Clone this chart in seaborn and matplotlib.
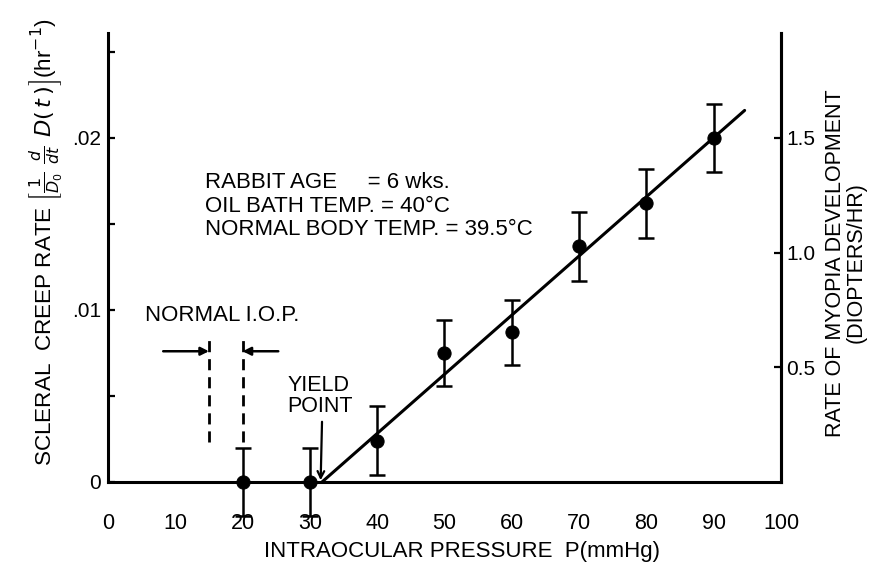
import matplotlib
matplotlib.use('Agg')
import matplotlib.pyplot as plt
import seaborn as sns

pressure = [20, 30, 40, 50, 60, 70, 80, 90]
creep_rate = [0.0, 0.0, 0.0024, 0.0075, 0.0087, 0.0137, 0.0162, 0.0200]
creep_err = [0.002, 0.002, 0.002, 0.0019, 0.0019, 0.002, 0.002, 0.002]

# fitted line above the yield point
fit_x = [31.8, 94.6]
fit_y = [0.0, 0.0216]

x_ticks = [0, 10, 20, 30, 40, 50, 60, 70, 80, 90, 100]
y_ticks = [0, 0.01, 0.02]
y_tick_labels = ['0', '.01', '.02']
y_minor = [0.005, 0.015, 0.025]
myopia_ticks = [0.5, 1.0, 1.5]
myopia_labels = ['0.5', '1.0', '1.5']
MYOPIA_PER_CREEP = 75  # right axis = left axis * 75

iop_bounds = [15, 20]
conditions = ['RABBIT AGE     = 6 wks.',
              'OIL BATH TEMP. = 40\u00b0C',
              'NORMAL BODY TEMP. = 39.5\u00b0C']

sns.set_theme(style='white')
plt.rcParams['font.family'] = ['Liberation Sans', 'DejaVu Sans']
plt.rcParams['mathtext.fontset'] = 'dejavusans'
plt.rcParams['text.color'] = 'black'
plt.rcParams['axes.labelcolor'] = 'black'

fig = plt.figure(figsize=(8.69, 5.70), dpi=100)
ax = fig.add_axes([0.1243, 0.1544, 0.7744, 0.7877])

ax.errorbar(pressure, creep_rate, yerr=creep_err, fmt='none', ecolor='black',
            elinewidth=1.8, capsize=6, capthick=1.8, zorder=4)
for art in ax.containers[0].get_children():
    art.set_clip_on(False)
sns.scatterplot(x=pressure, y=creep_rate, color='black', s=90, edgecolor='black',
                ax=ax, zorder=5, clip_on=False)
sns.lineplot(x=fit_x, y=fit_y, color='black', lw=2.2, ax=ax)

ax.set_xlim(0, 100)
ax.set_ylim(0, 0.0261)
ax.set_xticks(x_ticks)
ax.set_xticklabels([str(t) for t in x_ticks])
ax.set_yticks(y_ticks)
ax.set_yticklabels(y_tick_labels)
ax.set_yticks(y_minor, minor=True)
ax.tick_params(axis='x', direction='in', length=11, width=1.6, pad=22, labelsize=15.5, colors='black')
ax.tick_params(axis='y', which='both', direction='in', length=5, width=1.6, pad=5, labelsize=15, colors='black')
for side in ['left', 'bottom', 'right']:
    ax.spines[side].set_linewidth(2.2)
    ax.spines[side].set_color('black')
ax.spines['top'].set_visible(False)

ax2 = ax.twinx()
ax2.set_ylim(0, 0.0261 * MYOPIA_PER_CREEP)
ax2.set_yticks(myopia_ticks)
ax2.set_yticklabels(myopia_labels)
ax2.tick_params(axis='y', direction='in', length=5, width=1.6, pad=4, labelsize=15, colors='black')
ax2.spines['top'].set_visible(False)
ax2.spines['right'].set_linewidth(2.2)
ax2.spines['right'].set_color('black')
ax2.spines['left'].set_visible(False)
ax2.spines['bottom'].set_visible(False)
ax2.grid(False)

ax.set_xlabel('INTRAOCULAR PRESSURE  P(mmHg)', fontsize=16)
ax.xaxis.set_label_coords(0.526, -0.131)
fig.text(0.0518, 0.5754,
         r'SCLERAL  CREEP RATE $\left[\frac{1}{D_0}\ \frac{d}{dt}\ D(\,t\,)\right]$(hr$^{-1}$)',
         fontsize=16.2, rotation=90, ha='center', va='center')
fig.text(0.9735, 0.5386, 'RATE OF MYOPIA DEVELOPMENT\n(DIOPTERS/HR)', fontsize=15.5,
         rotation=90, ha='center', va='center', linespacing=0.95, multialignment='center')

# normal IOP band
ax.text(17.0, 0.0097, 'NORMAL I.O.P.', fontsize=16, ha='center', va='center')
ax.vlines(iop_bounds, 0.0023, 0.0086, colors='black', linestyles=(0, (4, 2.5)), lw=2)
ax.annotate('', xy=(iop_bounds[0], 0.0076), xytext=(8.2, 0.0076),
            arrowprops=dict(arrowstyle='-|>', lw=1.8, color='black', shrinkA=0, shrinkB=0))
ax.annotate('', xy=(iop_bounds[1], 0.0076), xytext=(25.3, 0.0076),
            arrowprops=dict(arrowstyle='-|>', lw=1.8, color='black', shrinkA=0, shrinkB=0))

# yield point
ax.text(26.7, 0.0050, 'YIELD\nPOINT', fontsize=15.5, ha='left', va='center', linespacing=0.95)
ax.annotate('', xy=(31.6, 0.0001), xytext=(31.8, 0.0035),
            arrowprops=dict(arrowstyle='->', lw=1.6, color='black', shrinkA=0, shrinkB=0))

for i, line in enumerate(conditions):
    ax.text(14.4, 0.0174 - i * 0.00137, line, fontsize=16, ha='left', va='center')

fig.savefig('out.png', dpi=100)
